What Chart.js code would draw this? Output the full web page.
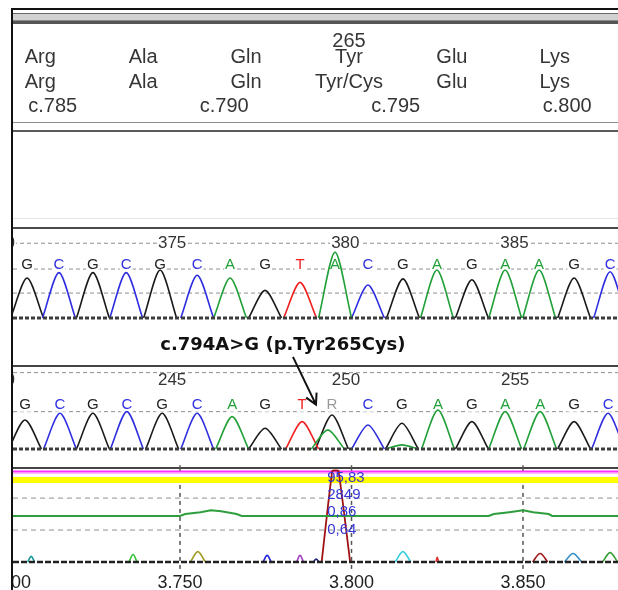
<!DOCTYPE html>
<html>
<head>
<meta charset="utf-8">
<script src="https://cdn.jsdelivr.net/npm/chart.js@4.4.0/dist/chart.umd.min.js"></script>
<style>
  html, body { margin: 0; padding: 0; background: #fff; }
  body { width: 618px; height: 590px; position: relative; overflow: hidden; }
  .abs { position: absolute; }
  canvas { position: absolute; left: 13px; }
</style>
</head>
<body>
<div class="abs" style="left:11px;top:8px;width:607px;height:582px;border-top:2px solid #111;border-left:2px solid #111;"></div>
<div class="abs" style="left:13px;top:13px;width:605px;height:11px;background:linear-gradient(#6a6a6a 0 1px,#d2d2d2 1px 7px,#8a8a8a 7px 8px,#555 8px 11px);"></div>
<div class="abs" style="left:13px;top:122px;width:605px;height:1px;background:#8c8c8c;"></div>
<div class="abs" style="left:13px;top:130px;width:605px;height:2px;background:#5a5a5a;"></div>
<div class="abs" style="left:13px;top:218px;width:605px;height:1px;background:#e4e4e4;"></div>
<div class="abs" style="left:13px;top:227px;width:605px;height:2px;background:#4a4a4a;"></div>

<canvas id="aa" width="605" height="100" style="top:24px"></canvas>
<canvas id="ref" width="605" height="92" style="top:229px"></canvas>
<canvas id="sample" width="605" height="126" style="top:325px"></canvas>
<canvas id="diff" width="605" height="128" style="top:462px"></canvas>

<script>
// ---- header: codons / amino acids
const codonNumbers = [262, 263, 264, 265, 266, 267];
const codonCenters = [785, 788, 791, 794, 797, 800];     // c. position of codon middle base
const refAminoAcids = ['Arg', 'Ala', 'Gln', 'Tyr', 'Glu', 'Lys'];
const sampleAminoAcids = ['Arg', 'Ala', 'Gln', 'Tyr/Cys', 'Glu', 'Lys'];
const shownCodon = 265;
const cdnaTicks = [785, 790, 795, 800];

// ---- reference trace (scan numbers, peak heights)
const refCalls = ['G','C','G','C','G','C','A','G','T','A','C','G','A','G','A','A','G','C'];
const refScans = [3705.4, 3714.7, 3724.6, 3734.3, 3744.2, 3755.0, 3764.6, 3774.8, 3785.0,
                  3795.2, 3804.8, 3815.0, 3824.9, 3835.1, 3844.8, 3854.7, 3864.9, 3875.4];
const refHeights = [45, 51, 51, 51, 54, 48, 45, 31, 40, 74, 37, 44, 54, 43, 54, 54, 45, 52];
const refPosLabels = [370, 375, 380, 385];
const refPosScans = [3697.7, 3747.7, 3798.2, 3847.5];

// ---- sample trace
const sampleCalls = ['G','C','G','C','G','C','A','G','T','R','C','G','A','G','A','A','G','C'];
const sampleCallScans = [3704.8, 3715.0, 3724.6, 3734.5, 3744.8, 3755.0, 3765.2, 3774.8, 3785.6,
                         3794.3, 3804.8, 3814.7, 3825.2, 3835.1, 3844.8, 3855.0, 3864.9, 3874.8];
const samplePeakBases = ['G','C','G','C','G','C','A','G','T','G','A','C','G','A','A','G','A','A','G','C'];
const samplePeakScans = [3704.8, 3715.0, 3724.6, 3734.5, 3744.8, 3755.0, 3765.2, 3774.8, 3785.6,
                         3794.3, 3793.1, 3804.8, 3814.7, 3814.7, 3825.2, 3835.1, 3844.8, 3855.0, 3864.9, 3874.8];
const samplePeakHeights = [35, 43, 43, 45, 43, 43, 39, 25, 33, 41, 23, 29, 31, 5, 47, 33, 45, 45, 33, 43];
const samplePosLabels = [240, 245, 250, 255];
const samplePosScans = [3697.7, 3747.7, 3798.4, 3847.7];
const mutationLabel = 'c.794A>G (p.Tyr265Cys)';
const mutationScan = 3794.3;

// ---- mutation / difference panel
const diffTicks = [3700, 3750, 3800, 3850];
const greenScans = [3701, 3750, 3751.5, 3756, 3759, 3762, 3766.5, 3768, 3840, 3841.5, 3846, 3850, 3853, 3857.5, 3858.5, 3878];
const greenValues = [49, 49, 51, 53, 55, 54, 51, 49, 49, 51, 53, 55, 53, 51, 49, 49];
const diffPeakScans = [3791.3, 3794.4, 3796.2, 3799.6];
const diffPeakValues = [0, 97, 97, 0];
const scoreTexts = ['95,83', '2849', '0,86', '0,64'];
const smallScans = [3706.6, 3736.3, 3755.2, 3775.4, 3785.0, 3789.7, 3815.0, 3825.0, 3855.0, 3864.6, 3875.4];
const smallHeights = [6, 8, 11, 7, 7, 3, 11, 5, 9, 9, 10];
const smallWidths = [1.0, 1.2, 2.2, 1.2, 1.0, 0.8, 2.3, 0.4, 2.2, 2.5, 2.2];
const smallColors = ['#1a9a9a', '#33c033', '#a09a20', '#2424d8', '#a040c0', '#202080',
                     '#35d0e0', '#e03030', '#a01818', '#3a8fc8', '#35a035'];

const X_MIN = 3701.3, X_MAX = 3877.7;
const traceColors = { G: '#1a1a1a', C: '#2e2ee0', A: '#22a038', T: '#f02020' };
const callColors = { G: '#222', C: '#3030e0', A: '#22a038', T: '#f02020', R: '#9a9a9a' };
const SANS = '"Liberation Sans", Arial, sans-serif';

function makeChart(id, xMin, xMax, yMin, yMax, datasets, plugin) {
  return new Chart(document.getElementById(id), {
    type: 'line',
    data: { datasets },
    options: {
      responsive: false, animation: false, events: [], devicePixelRatio: 1,
      layout: { padding: 0 },
      plugins: { legend: { display: false }, tooltip: { enabled: false } },
      elements: { point: { radius: 0 }, line: { borderWidth: 1.6, tension: 0.28 } },
      scales: {
        x: { type: 'linear', min: xMin, max: xMax, display: false },
        y: { type: 'linear', min: yMin, max: yMax, display: false }
      }
    },
    plugins: [plugin]
  });
}

function traceDatasets(scans, heights, bases) {
  return ['A', 'C', 'T', 'G'].map(ch => {
    const pts = [];
    scans.forEach((s, i) => {
      if (bases[i] !== ch) return;
      pts.push({ x: s - 4.8, y: 0 }, { x: s, y: heights[i] }, { x: s + 4.8, y: 0 }, { x: s + 4.8, y: null });
    });
    return { data: pts, borderColor: traceColors[ch], fill: false, spanGaps: false };
  });
}

function hLine(ctx, area, y, color, width, dash) {
  ctx.save();
  ctx.strokeStyle = color; ctx.lineWidth = width; ctx.setLineDash(dash || []);
  ctx.beginPath(); ctx.moveTo(area.left, y); ctx.lineTo(area.right, y); ctx.stroke();
  ctx.restore();
}

function textBg(ctx, text, x, y, color) {
  const w = ctx.measureText(text).width;
  ctx.fillStyle = '#fff';
  ctx.fillRect(x - w / 2 - 1, y - 7, w + 2, 14);
  ctx.fillStyle = color;
  ctx.fillText(text, x, y);
}

// header panel
makeChart('aa', 784.204, 801.843, 0, 1, [], {
  id: 'aaText',
  afterDraw(chart) {
    const { ctx, scales: { x } } = chart;
    ctx.save();
    ctx.font = '20px ' + SANS;
    ctx.fillStyle = '#363636';
    ctx.textBaseline = 'alphabetic';
    ctx.textAlign = 'center';
    const k = codonNumbers.indexOf(shownCodon);
    ctx.fillText(String(shownCodon), x.getPixelForValue(codonCenters[k]), 23);
    codonCenters.forEach((c, i) => {
      ctx.fillText(refAminoAcids[i], x.getPixelForValue(c), 39);
      ctx.fillText(sampleAminoAcids[i], x.getPixelForValue(c), 64);
    });
    ctx.textAlign = 'left';
    cdnaTicks.forEach(c => ctx.fillText('c.' + c, x.getPixelForValue(c) - 12, 88));
    ctx.restore();
  }
});

// reference chromatogram
const refGrid = [28, 55, 84];
makeChart('ref', X_MIN, X_MAX, -3.37, 100, traceDatasets(refScans, refHeights, refCalls), {
  id: 'refDeco',
  beforeDatasetsDraw(chart) {
    const { ctx, chartArea, scales: { x, y } } = chart;
    refGrid.forEach(v => hLine(ctx, chartArea, y.getPixelForValue(v), '#8f8f8f', 1, [4, 3]));
    ctx.save();
    ctx.textAlign = 'center'; ctx.textBaseline = 'middle';
    ctx.font = '17px ' + SANS;
    refPosLabels.forEach((p, i) => textBg(ctx, String(p), x.getPixelForValue(refPosScans[i]), y.getPixelForValue(refGrid[2]), '#333'));
    ctx.font = '15px ' + SANS;
    refCalls.forEach((b, i) => textBg(ctx, b, x.getPixelForValue(refScans[i]), y.getPixelForValue(refGrid[1]) - 4, callColors[b]));
    ctx.restore();
  },
  afterDatasetsDraw(chart) {
    const { ctx, chartArea, scales: { y } } = chart;
    hLine(ctx, chartArea, y.getPixelForValue(0), '#3c3c3c', 3, [4, 2]);
  }
});

// sample chromatogram + annotation
const sampleGrid = [45, 92];
makeChart('sample', X_MIN, X_MAX, -2.4, 149.4, traceDatasets(samplePeakScans, samplePeakHeights, samplePeakBases), {
  id: 'sampleDeco',
  beforeDatasetsDraw(chart) {
    const { ctx, chartArea, scales: { x, y } } = chart;
    hLine(ctx, chartArea, y.getPixelForValue(100), '#444', 2);
    sampleGrid.forEach(v => hLine(ctx, chartArea, y.getPixelForValue(v), '#8f8f8f', 1, [4, 3]));
    ctx.save();
    ctx.textAlign = 'center'; ctx.textBaseline = 'middle';
    ctx.font = '17px ' + SANS;
    samplePosLabels.forEach((p, i) => textBg(ctx, String(p), x.getPixelForValue(samplePosScans[i]), y.getPixelForValue(sampleGrid[1]) + 8, '#333'));
    ctx.font = '15px ' + SANS;
    sampleCalls.forEach((b, i) => textBg(ctx, b, x.getPixelForValue(sampleCallScans[i]), y.getPixelForValue(sampleGrid[0]) - 7, callColors[b]));
    ctx.restore();
  },
  afterDatasetsDraw(chart) {
    const { ctx, chartArea, scales: { x, y } } = chart;
    hLine(ctx, chartArea, y.getPixelForValue(0), '#3c3c3c', 3, [4, 2]);
    ctx.save();
    ctx.textAlign = 'center'; ctx.textBaseline = 'middle';
    ctx.font = 'bold 18px "DejaVu Sans", Verdana, sans-serif';
    ctx.fillStyle = '#111';
    ctx.fillText(mutationLabel, x.getPixelForValue(3780), y.getPixelForValue(125));
    // arrow to the mixed base
    const tx = x.getPixelForValue(mutationScan) - 16, ty = y.getPixelForValue(sampleGrid[0]) - 7;
    const sx = tx - 23, sy = y.getPixelForValue(111);
    const ang = Math.atan2(ty - sy, tx - sx);
    ctx.strokeStyle = '#111'; ctx.lineWidth = 2;
    ctx.beginPath();
    ctx.moveTo(sx, sy); ctx.lineTo(tx, ty);
    ctx.moveTo(tx - 12 * Math.cos(ang - 0.5), ty - 12 * Math.sin(ang - 0.5)); ctx.lineTo(tx, ty);
    ctx.lineTo(tx - 12 * Math.cos(ang + 0.5), ty - 12 * Math.sin(ang + 0.5));
    ctx.stroke();
    ctx.restore();
  }
});

// mutation score panel
const diffSets = [
  { data: greenScans.map((s, i) => ({ x: s, y: greenValues[i] })), borderColor: '#2e9e3e', borderWidth: 2, tension: 0 },
  { data: diffPeakScans.map((s, i) => ({ x: s, y: diffPeakValues[i] })), borderColor: '#a01212', borderWidth: 1.8, tension: 0.1 }
].concat(smallScans.map((s, i) => ({
  data: [{ x: s - smallWidths[i], y: 0 }, { x: s, y: smallHeights[i] }, { x: s + smallWidths[i], y: 0 }],
  borderColor: smallColors[i], borderWidth: 1.6, cubicInterpolationMode: 'monotone'
})));

makeChart('diff', X_MIN, X_MAX, -29.8, 106.4, diffSets, {
  id: 'diffDeco',
  beforeDatasetsDraw(chart) {
    const { ctx, chartArea, scales: { x, y } } = chart;
    ctx.save();
    ctx.fillStyle = '#ffff00';
    ctx.fillRect(chartArea.left, y.getPixelForValue(90.5), chartArea.width, y.getPixelForValue(84) - y.getPixelForValue(90.5));
    ctx.restore();
    hLine(ctx, chartArea, y.getPixelForValue(94.3), '#ffb0ff', 1);
    hLine(ctx, chartArea, y.getPixelForValue(96.3), '#ff30ff', 2.2);
    hLine(ctx, chartArea, y.getPixelForValue(100), '#444', 2);
    [68, 34].forEach(v => hLine(ctx, chartArea, y.getPixelForValue(v), '#8f8f8f', 1, [5, 4]));
    ctx.save();
    ctx.strokeStyle = '#555'; ctx.lineWidth = 1.5; ctx.setLineDash([4, 4]);
    diffTicks.forEach(t => {
      const px = x.getPixelForValue(t);
      ctx.beginPath(); ctx.moveTo(px, y.getPixelForValue(82)); ctx.lineTo(px, y.getPixelForValue(-9)); ctx.stroke();
    });
    ctx.setLineDash([]);
    diffTicks.forEach(t => {
      const px = x.getPixelForValue(t);
      ctx.beginPath(); ctx.moveTo(px, y.getPixelForValue(103)); ctx.lineTo(px, y.getPixelForValue(97)); ctx.stroke();
    });
    ctx.restore();
  },
  afterDatasetsDraw(chart) {
    const { ctx, chartArea, scales: { x, y } } = chart;
    hLine(ctx, chartArea, y.getPixelForValue(0), '#222', 2.5, [6, 2]);
    ctx.save();
    ctx.font = '18px ' + SANS;
    ctx.fillStyle = '#222';
    ctx.textAlign = 'center'; ctx.textBaseline = 'middle';
    diffTicks.forEach(t => ctx.fillText(t.toLocaleString('de-DE'), x.getPixelForValue(t), y.getPixelForValue(-22.3)));
    ctx.font = '15px ' + SANS;
    ctx.fillStyle = '#3535d5';
    ctx.textAlign = 'left';
    [89.4, 71.3, 53.2, 34.0].forEach((v, i) => ctx.fillText(scoreTexts[i], x.getPixelForValue(3792.9), y.getPixelForValue(v)));
    ctx.restore();
  }
});
</script>
</body>
</html>
